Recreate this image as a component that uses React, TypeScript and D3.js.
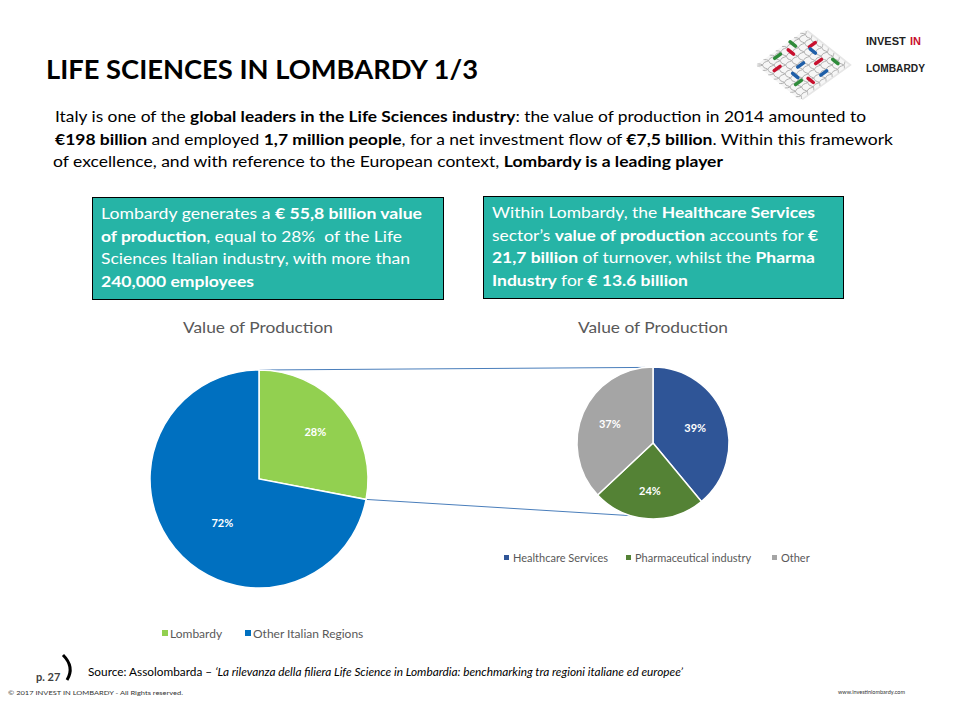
import React from "react";
import * as d3 from "d3";

// ---- data ----
const mainCategories = ["Lombardy", "Other Italian Regions"];
const mainValues = [28, 72];
const mainColors = ["#92D050", "#0070C0"];

const subCategories = ["Healthcare Services", "Pharmaceutical industry", "Other"];
const subValues = [39, 24, 37];
const subColors = ["#2F5597", "#548235", "#A5A5A5"];

const chartTitles = ["Value of Production", "Value of Production"];

const FONT = "Lato, 'Open Sans', sans-serif";

type Seg = [string, boolean];

function Rich({ x, y, segs, size, fill, len }: { x: number; y: number; segs: Seg[]; size: number; fill: string; len?: number }) {
  return (
    <text x={x} y={y} fontSize={size} fill={fill} fontFamily={FONT} textLength={len} lengthAdjust={len ? "spacingAndGlyphs" : undefined} style={{ whiteSpace: "pre" }}>
      {segs.map(([t, b], i) => (
        <tspan key={i} fontWeight={b ? "bold" : "normal"}>{t}</tspan>
      ))}
    </text>
  );
}

const introLines: { segs: Seg[]; x: number; len: number }[] = [
  { segs: [["Italy is one of the ", false], ["global leaders in the Life Sciences industry", true], [": the value of production in 2014 amounted to", false]], x: 55, len: 811 },
  { segs: [["€198 billion", true], [" and employed ", false], ["1,7 million people", true], [", for a net investment flow of ", false], ["€7,5 billion", true], [". Within this framework", false]], x: 55, len: 838 },
  { segs: [["of excellence, and with reference to the European context, ", false], ["Lombardy is a leading player", true]], x: 53, len: 670 },
];

const leftBoxLines: { segs: Seg[]; len: number }[] = [
  { segs: [["Lombardy generates a ", false], ["€ 55,8 billion value", true]], len: 321 },
  { segs: [["of production", true], [", equal to 28%  of the Life", false]], len: 301 },
  { segs: [["Sciences Italian industry, with more than", false]], len: 309 },
  { segs: [["240,000 employees", true]], len: 153 },
];

const rightBoxLines: { segs: Seg[]; len: number }[] = [
  { segs: [["Within Lombardy, the ", false], ["Healthcare Services", true]], len: 323 },
  { segs: [["sector’s ", false], ["value of production", true], [" accounts for ", false], ["€", true]], len: 326 },
  { segs: [["21,7 billion", true], [" of turnover, whilst the ", false], ["Pharma", true]], len: 323 },
  { segs: [["Industry", true], [" for ", false], ["€ 13.6 billion", true]], len: 196 },
];

function Pie({ cx, cy, r, values, colors, labelFactors, labelShift }: { cx: number; cy: number; r: number; values: number[]; colors: string[]; labelFactors: number[]; labelShift: number[] }) {
  const total = d3.sum(values);
  const arcs = d3.pie<number>().sort(null).value((d) => d)(values);
  const arc = d3.arc<d3.PieArcDatum<number>>().innerRadius(0).outerRadius(r);
  return (
    <g transform={`translate(${cx},${cy})`}>
      {arcs.map((a, i) => (
        <path key={i} d={arc(a) || ""} fill={colors[i]} stroke="#fff" strokeWidth={1.5} />
      ))}
      {arcs.map((a, i) => {
        const mid = (a.startAngle + a.endAngle) / 2 + (labelShift[i] * Math.PI) / 180;
        const lr = r * labelFactors[i];
        return (
          <text key={"l" + i} x={Math.sin(mid) * lr} y={-Math.cos(mid) * lr} dy="0.35em" textAnchor="middle" fill="#fff" fontWeight="bold" fontSize={11} fontFamily={FONT}>
            {d3.format(".0%")(a.data / total)}
          </text>
        );
      })}
    </g>
  );
}

function Logo() {
  // decorative logo drawn in a skewed unit square
  const waves: string[] = [];
  const line = d3.line<[number, number]>().curve(d3.curveBasis);
  for (let k = 0; k < 8; k++) {
    const v = 6 + k * 12.5;
    const pts: [number, number][] = d3.range(0, 101, 6.25).map((u, j) => [u, v + (j % 2 ? 3 : -3)]);
    waves.push(line(pts) || "");
    const pts2: [number, number][] = d3.range(0, 101, 6.25).map((u, j) => [v + (j % 2 ? 3 : -3), u]);
    waves.push(line(pts2) || "");
  }
  const dashes: [number, number, string, number][] = [
    [18, 28, "#c8102e", 0], [55, 18, "#c8102e", 1], [72, 62, "#c8102e", 0], [38, 82, "#c8102e", 1], [88, 30, "#c8102e", 0],
    [48, 48, "#1f5fa8", 0], [80, 40, "#1f5fa8", 1], [28, 58, "#1f5fa8", 1], [62, 85, "#1f5fa8", 0],
    [22, 72, "#2e8b3a", 0], [68, 8, "#2e8b3a", 1], [90, 80, "#2e8b3a", 1], [35, 10, "#2e8b3a", 0],
  ];
  const logoFont = "'Liberation Sans', sans-serif";
  return (
    <g>
      <g transform="matrix(0.49,-0.35,0.44,0.35,756,65)">
        <rect x={3} y={3} width={100} height={100} fill="#e6e6e6" />
        <rect x={0} y={0} width={100} height={100} fill="#f6f6f6" />
        {waves.map((d, i) => (
          <path key={i} d={d} fill="none" stroke="#b0b0b0" strokeWidth={1} vectorEffect="non-scaling-stroke" />
        ))}
        {dashes.map(([u, v, c, o], i) => (
          <line key={"d" + i} x1={u - (o ? 0 : 6)} y1={v - (o ? 6 : 0)} x2={u + (o ? 0 : 6)} y2={v + (o ? 6 : 0)} stroke={c} strokeWidth={3.5} strokeLinecap="round" vectorEffect="non-scaling-stroke" />
        ))}
      </g>
      <text x={866} y={45} fontFamily={logoFont} fontWeight="bold" fontSize={11} fill="#222">
        INVEST
      </text>
      <text x={910} y={45} fontFamily={logoFont} fontWeight="bold" fontSize={11} fill="#c8102e">
        IN
      </text>
      <text x={866} y={72} fontFamily={logoFont} fontWeight="bold" fontSize={11} textLength={59} lengthAdjust="spacingAndGlyphs" fill="#222">
        LOMBARDY
      </text>
    </g>
  );
}

export default function App() {
  const L = { cx: 259, cy: 479, r: 109 };
  const R = { cx: 653, cy: 443, r: 76 };
  const mainArcs = d3.pie<number>().sort(null).value((d) => d)(mainValues);
  const connA1 = mainArcs[0].startAngle;
  const connA2 = mainArcs[0].endAngle;
  const rA1 = (-6 * Math.PI) / 180;
  const rA2 = (197 * Math.PI) / 180;
  const pt = (c: { cx: number; cy: number; r: number }, a: number) => [c.cx + Math.sin(a) * c.r, c.cy - Math.cos(a) * c.r];
  const [p1x, p1y] = pt(L, connA1);
  const [p2x, p2y] = pt(R, rA1);
  const [p3x, p3y] = pt(L, connA2);
  const [p4x, p4y] = pt(R, rA2);

  const leftLegendX = [162, 245];
  const rightLegendX = [504, 626, 772];

  return (
    <svg width={960} height={720} style={{ position: "absolute", left: 0, top: 0, background: "#fff" }} fontFamily={FONT}>
      <rect width={960} height={720} fill="#fff" />
      <text x={46} y={79} fontSize={27} fontWeight="bold" fill="#000" fontFamily={FONT} textLength={432} lengthAdjust="spacingAndGlyphs">
        LIFE SCIENCES IN LOMBARDY 1/3
      </text>
      <Logo />

      {introLines.map((l, i) => (
        <Rich key={i} x={l.x} y={122 + i * 22.5} segs={l.segs} size={16} fill="#000" len={l.len} />
      ))}

      <rect x={92.5} y={197.5} width={351} height={102} fill="#26B4A6" stroke="#000" strokeWidth={1} />
      {leftBoxLines.map((l, i) => (
        <Rich key={i} x={101} y={219 + i * 22.7} segs={l.segs} size={16} fill="#fff" len={l.len} />
      ))}
      <rect x={483.5} y={196.5} width={360} height={102} fill="#26B4A6" stroke="#000" strokeWidth={1} />
      {rightBoxLines.map((l, i) => (
        <Rich key={i} x={492} y={218 + i * 22.7} segs={l.segs} size={16} fill="#fff" len={l.len} />
      ))}

      <text x={183} y={333} fontSize={16} fill="#595959" textLength={150} lengthAdjust="spacingAndGlyphs">{chartTitles[0]}</text>
      <text x={578} y={333} fontSize={16} fill="#595959" textLength={150} lengthAdjust="spacingAndGlyphs">{chartTitles[1]}</text>

      <line x1={p1x} y1={p1y} x2={p2x} y2={p2y} stroke="#4A7EBB" strokeWidth={1} />
      <line x1={p3x} y1={p3y} x2={p4x} y2={p4y} stroke="#4A7EBB" strokeWidth={1} />

      <Pie cx={L.cx} cy={L.cy} r={L.r} values={mainValues} colors={mainColors} labelFactors={[0.67, 0.53]} labelShift={[0, -11]} />
      <Pie cx={R.cx} cy={R.cy} r={R.r} values={subValues} colors={subColors} labelFactors={[0.59, 0.64, 0.62]} labelShift={[0, 0, 0]} />

      {mainCategories.map((c, i) => (
        <g key={c}>
          <rect x={leftLegendX[i]} y={630} width={6} height={6} fill={mainColors[i]} />
          <text x={leftLegendX[i] + 8} y={638} fontSize={12} fill="#595959">{c}</text>
        </g>
      ))}
      {subCategories.map((c, i) => (
        <g key={c}>
          <rect x={rightLegendX[i]} y={555} width={5} height={5} fill={subColors[i]} />
          <text x={rightLegendX[i] + 9} y={562} fontSize={11} fill="#595959">{c}</text>
        </g>
      ))}

      <text x={36} y={681} fontSize={11} fontWeight="bold" fill="#404040">p. 27</text>
      <path d="M63,655 Q75,667 67,680" fill="none" stroke="#000" strokeWidth={3} />
      <text x={88} y={676} fontSize={10.5} fill="#000" textLength={595} lengthAdjust="spacingAndGlyphs" style={{ whiteSpace: "pre" }}>
        <tspan>Source: Assolombarda – </tspan>
        <tspan fontStyle="italic">‘La rilevanza della filiera Life Science in Lombardia: benchmarking tra regioni italiane ed europee’</tspan>
      </text>
      <text x={8} y={695} fontSize={5.5} fill="#333" textLength={175} lengthAdjust="spacingAndGlyphs">© 2017 INVEST IN LOMBARDY -  All Rights reserved.</text>
      <text x={838} y={694} fontSize={5.5} fill="#333" textLength={67} lengthAdjust="spacingAndGlyphs">www.investinlombardy.com</text>
    </svg>
  );
}
